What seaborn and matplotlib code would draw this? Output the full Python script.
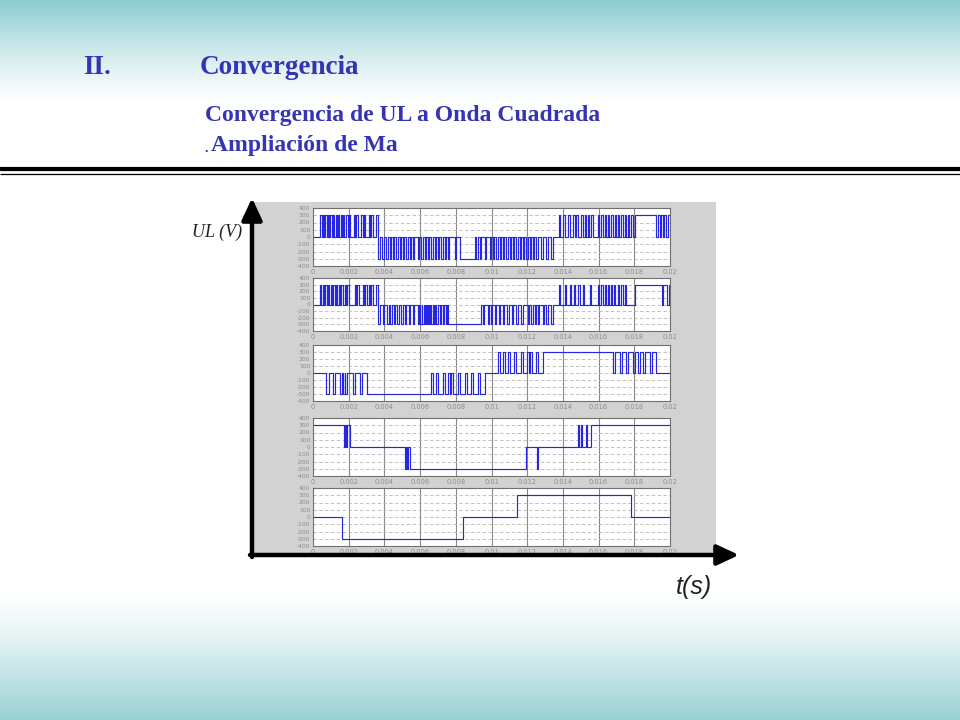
import numpy as np
import matplotlib
matplotlib.use("Agg")
import matplotlib.pyplot as plt
import seaborn as sns
import pandas as pd
from matplotlib.patches import Rectangle

sns.set_theme(style="white")
plt.rcParams["font.family"] = ["Liberation Serif", "DejaVu Serif"]

# ---------------- data ----------------
T_END = 0.02
x_ticks = [0, 0.002, 0.004, 0.006, 0.008, 0.01, 0.012, 0.014, 0.016, 0.018, 0.02]
x_tick_labels = ["0", "0.002", "0.004", "0.006", "0.008", "0.01", "0.012",
                 "0.014", "0.016", "0.018", "0.02"]
y_ticks = [-400, -300, -200, -100, 0, 100, 200, 300, 400]
y_tick_labels = ["-400", "-300", "-200", "-100", "0", "100", "200", "300", "400"]

# subplot 1
b1_t = [0.0, 0.00825, 0.00905, 0.01802]
b1_v = [0, -300, 0, 300]
p1_up = [0.00041, 0.00056, 0.00069, 0.00084, 0.00097, 0.00112, 0.00127, 0.00140,
         0.00155, 0.00168, 0.00187, 0.00200, 0.00228, 0.00243, 0.00271, 0.00286,
         0.00312, 0.00327, 0.00355, 0.01378, 0.01401, 0.01429, 0.01457, 0.01475,
         0.01503, 0.01522, 0.01541, 0.01559, 0.01597, 0.01615, 0.01634, 0.01653,
         0.01671, 0.01690, 0.01709, 0.01727, 0.01746, 0.01765, 0.01783]
p1_dn = [0.00362, 0.00370, 0.00388, 0.00411, 0.00429, 0.00448, 0.00467, 0.00486,
         0.00504, 0.00523, 0.00542, 0.00560, 0.00588, 0.00607, 0.00626, 0.00644,
         0.00663, 0.00682, 0.00700, 0.00719, 0.00738, 0.00756, 0.00794, 0.00915,
         0.00934, 0.00962, 0.00990, 0.01008, 0.01027, 0.01046, 0.01064, 0.01083,
         0.01102, 0.01120, 0.01139, 0.01158, 0.01176, 0.01195, 0.01214, 0.01232,
         0.01251, 0.01279, 0.01307, 0.01335]
p1_zero = [0.01923, 0.01942, 0.01961, 0.01979]
w1 = 0.00008

# subplot 2
b2_t = [0.0, 0.00756, 0.00940, 0.01802]
b2_v = [0, -300, 0, 300]
p2_up = [0.00037, 0.00056, 0.00069, 0.00084, 0.00099, 0.00114, 0.00129, 0.00144,
         0.00159, 0.00177, 0.00192, 0.00233, 0.00248, 0.00280, 0.00293, 0.00312,
         0.00327, 0.00355, 0.01378, 0.01410, 0.01438, 0.01462, 0.01485, 0.01513,
         0.01550, 0.01597, 0.01615, 0.01634, 0.01653, 0.01668, 0.01686, 0.01709,
         0.01727, 0.01746]
p2_dn = [0.00362, 0.00370, 0.00392, 0.00415, 0.00434, 0.00452, 0.00473, 0.00495,
         0.00514, 0.00538, 0.00560, 0.00588, 0.00601, 0.00612, 0.00626, 0.00639,
         0.00650, 0.00663, 0.00676, 0.00691, 0.00710, 0.00728, 0.00743, 0.00952,
         0.00980, 0.00995, 0.01018, 0.01040, 0.01064, 0.01089, 0.01115, 0.01139,
         0.01167, 0.01204, 0.01223, 0.01242, 0.01260, 0.01288, 0.01307, 0.01335]
p2_zero = [0.01955, 0.01985]
w2 = 0.00008

# subplot 3
b3_t = [0.0, 0.00310, 0.00962, 0.01300, 0.01923]
b3_v = [0, -300, 0, 300, 0]
p3_up = [0.01034, 0.01064, 0.01092, 0.01124, 0.01167, 0.01199, 0.01214, 0.01251,
         0.01288]
p3_dn = [0.00075, 0.00112, 0.00153, 0.00168, 0.00181, 0.00224, 0.00265, 0.00302]
p3_zero = [0.00659, 0.00687, 0.00728, 0.00756, 0.00775, 0.00812, 0.00850, 0.00887,
           0.00924, 0.01681, 0.01718, 0.01755, 0.01793, 0.01821, 0.01849, 0.01886]
w3 = 0.00012

# subplot 4
b4_t = [0.0, 0.00205, 0.00542, 0.01195, 0.01555]
b4_v = [300, 0, -300, 0, 300]
p4_up = [0.01485, 0.01503, 0.01531]
p4_dn = [0.00517, 0.00528, 0.01257]
p4_zero = [0.00174, 0.00187]
w4 = 0.00006

# subplot 5
b5_t = [0.0, 0.00161, 0.00838, 0.01141, 0.01780]
b5_v = [0, -300, 0, 300, 0]
p5_up, p5_dn, p5_zero = [], [], []
w5 = 0.00006

series = [
    (b1_t, b1_v, p1_up, p1_dn, p1_zero, w1),
    (b2_t, b2_v, p2_up, p2_dn, p2_zero, w2),
    (b3_t, b3_v, p3_up, p3_dn, p3_zero, w3),
    (b4_t, b4_v, p4_up, p4_dn, p4_zero, w4),
    (b5_t, b5_v, p5_up, p5_dn, p5_zero, w5),
]

# panel positions in pixels: (left, top, right, bottom)
boxes = [(313, 208, 670, 266), (313, 278, 670, 331), (313, 345, 670, 401),
         (313, 418, 670, 476), (313, 488, 670, 546)]


def build(bt, bv, up, dn, zero, w):
    pulses = [(s, 300) for s in up] + [(s, -300) for s in dn] + [(s, 0) for s in zero]
    ev = set(bt) | {T_END}
    for s, _ in pulses:
        ev.add(s)
        ev.add(min(s + w, T_END))
    ev = sorted(e for e in ev if e <= T_END)
    vals = []
    for e in ev:
        v = None
        for s, lv in pulses:
            if s <= e < s + w:
                v = lv
        if v is None:
            idx = int(np.searchsorted(bt, e, side="right")) - 1
            v = bv[idx]
        vals.append(v)
    return pd.DataFrame({"t": ev, "v": vals})


W, H = 960, 720
fig = plt.figure(figsize=(9.6, 7.2), dpi=100)

# background gradient
bg = fig.add_axes([0, 0, 1, 1], zorder=-10)
ys = np.arange(H)
top_c = np.array([140, 204, 208]) / 255.0
bot_c = np.array([150, 208, 212]) / 255.0
white = np.ones(3)
img = np.ones((H, 1, 3))
for y in ys:
    if y < 105:
        f = (1 - y / 105.0) ** 1.3
        img[y, 0] = white * (1 - f) + top_c * f
    elif y > 590:
        f = ((y - 590) / 130.0) ** 1.3
        img[y, 0] = white * (1 - f) + bot_c * f
bg.imshow(img, aspect="auto", extent=[0, W, H, 0])
bg.set_xlim(0, W)
bg.set_ylim(H, 0)
bg.axis("off")

# gray panel
bg.add_patch(Rectangle((253, 202), 463, 351, facecolor="#d2d2d2", edgecolor="none"))

# subplots
for (bt, bv, up, dn, zero, w), (l, t, r, b) in zip(series, boxes):
    ax = fig.add_axes([l / W, 1 - b / H, (r - l) / W, (b - t) / H])
    ax.set_facecolor("white")
    df = build(bt, bv, up, dn, zero, w)
    sns.lineplot(data=df, x="t", y="v", ax=ax, drawstyle="steps-post",
                 estimator=None, sort=False, color="#2626e0", linewidth=0.85)
    ax.set_xlim(0, T_END)
    ax.set_ylim(-400, 400)
    ax.set_xticks(x_ticks)
    ax.set_xticklabels(x_tick_labels, fontsize=4.8, color="#8c8c8c",
                       family="DejaVu Sans")
    ax.set_yticks(y_ticks)
    ax.set_yticklabels(y_tick_labels, fontsize=4.3, color="#8c8c8c",
                       family="DejaVu Sans")
    ax.tick_params(length=0, pad=2)
    ax.set_xlabel("")
    ax.set_ylabel("")
    for xv in x_ticks[1:-1]:
        ax.axvline(xv, color="#8a8a8a", lw=0.8, zorder=0)
    for yv in y_ticks[1:-1]:
        ax.axhline(yv, color="#b5b5b5", lw=0.6, ls=(0, (4, 3)), zorder=0)
    for sp in ax.spines.values():
        sp.set_color("#707070")
        sp.set_linewidth(0.8)

# overlay for texts, rules and arrows
ov = fig.add_axes([0, 0, 1, 1], zorder=10)
ov.set_xlim(0, W)
ov.set_ylim(H, 0)
ov.axis("off")
ov.patch.set_alpha(0)

tc = "#3434b4"
ov.text(83, 68, "II.", fontsize=19.5, fontweight="bold", color=tc, va="center")
ov.text(200, 68, "Convergencia", fontsize=19.5, fontweight="bold", color=tc, va="center")
ov.text(205, 116, "Convergencia de UL a Onda Cuadrada", fontsize=17,
        fontweight="bold", color=tc, va="center")
ov.text(204, 148, ".", fontsize=10, fontweight="bold", color=tc, va="center")
ov.text(211, 145, "Ampliación de Ma", fontsize=17, fontweight="bold",
        color=tc, va="center")

ov.plot([0, W], [168.5, 168.5], color="black", lw=3.0, solid_capstyle="butt")
ov.plot([0, W], [173.5, 173.5], color="black", lw=0.9, solid_capstyle="butt")

ov.annotate("", xy=(252, 198), xytext=(252, 557),
            arrowprops=dict(arrowstyle="-|>,head_length=0.6,head_width=0.28",
                            lw=3.2, color="black", mutation_scale=22,
                            shrinkA=0, shrinkB=0))
ov.annotate("", xy=(739, 555), xytext=(250, 555),
            arrowprops=dict(arrowstyle="-|>,head_length=0.6,head_width=0.28",
                            lw=3.2, color="black", mutation_scale=22,
                            shrinkA=0, shrinkB=0))

ov.text(242, 232, "UL (V)", fontsize=13, fontstyle="italic", color="#222222",
        ha="right", va="center")
ov.text(676, 587, "t(s)", fontsize=18, fontstyle="italic", color="#222222",
        ha="left", va="center", family=["Liberation Sans", "DejaVu Sans"])

fig.savefig("out.png", dpi=100)
